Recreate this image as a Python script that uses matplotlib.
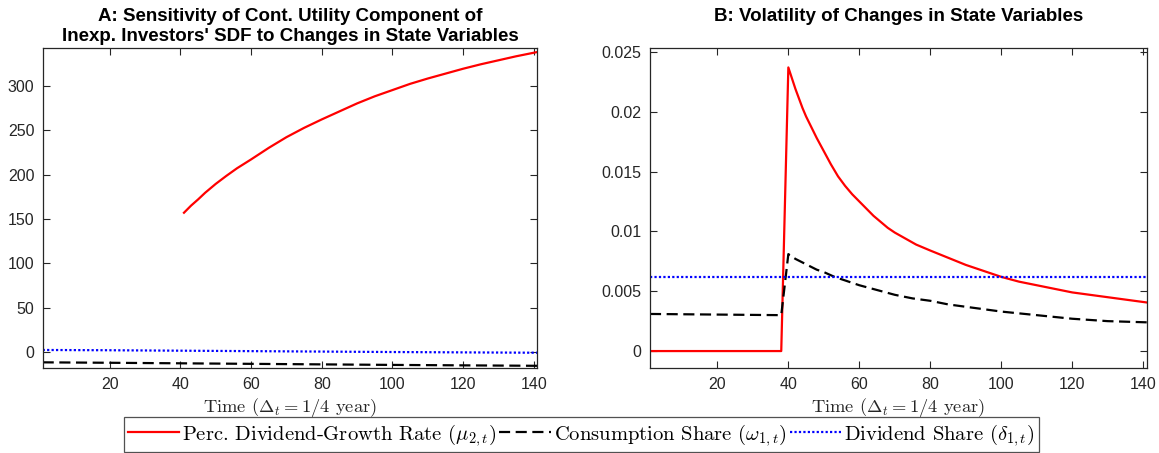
import matplotlib.pyplot as plt
from matplotlib.ticker import FuncFormatter

plt.rcParams['font.family'] = ['Liberation Sans', 'DejaVu Sans']
plt.rcParams['mathtext.fontset'] = 'cm'

# Panel A: sensitivity of cont. utility component
a_red_t = [41, 43, 45, 47, 50, 53, 56, 60, 65, 70, 75, 80, 85, 90, 95, 100, 105, 110, 115, 120,
           125, 130, 135, 140, 141]
a_red_v = [157, 165, 172, 179.5, 189.5, 198.5, 207, 217, 230, 242, 252.5, 262, 271, 280, 288, 295,
           302, 308, 313.5, 319, 324, 328.5, 333, 337, 337.8]
a_blk_t = [1, 20, 40, 60, 80, 100, 120, 141]
a_blk_v = [-11.3, -11.8, -12.4, -13.0, -13.6, -14.2, -14.7, -15.2]
a_blu_t = [1, 20, 40, 60, 80, 100, 120, 141]
a_blu_v = [2.6, 2.3, 1.8, 1.3, 0.8, 0.3, -0.1, -0.5]

# Panel B: volatility of changes in state variables
b_red_t = [1, 38, 40, 41, 42, 43, 44, 45, 46, 48, 50, 52, 54, 56, 58, 60, 62, 64, 66, 68, 70, 73,
           76, 80, 85, 90, 95, 100, 105, 110, 115, 120, 125, 130, 135, 140, 141]
b_red_v = [0, 0, 0.0237, 0.0228, 0.0219, 0.0211, 0.0203, 0.0196, 0.0190, 0.0178, 0.0167, 0.0156,
           0.0146, 0.0138, 0.0131, 0.0125, 0.0119, 0.0113, 0.0108, 0.0103, 0.0099, 0.0094, 0.0089,
           0.0084, 0.0078, 0.0072, 0.0067, 0.0062, 0.0058, 0.0055, 0.0052, 0.0049, 0.0047, 0.0045,
           0.0043, 0.0041, 0.00406]
b_blk_t = [1, 38, 40, 42, 44, 46, 48, 50, 53, 56, 60, 65, 70, 75, 80, 85, 90, 100, 110, 120, 130, 141]
b_blk_v = [0.0031, 0.0030, 0.0081, 0.0077, 0.0074, 0.0071, 0.0068, 0.0066, 0.0062, 0.0059, 0.0055,
           0.0051, 0.0047, 0.0044, 0.0042, 0.0039, 0.0037, 0.0033, 0.0030, 0.0027, 0.0025, 0.0024]
b_blu_t = [1, 141]
b_blu_v = [0.0062, 0.0062]

a_yticks = [0, 50, 100, 150, 200, 250, 300]
b_yticks = [0, 0.005, 0.01, 0.015, 0.02, 0.025]
xticks = [20, 40, 60, 80, 100, 120, 140]

labels = [r'Perc. Dividend-Growth Rate ($\mu_{2,t}$)',
          r'Consumption Share ($\omega_{1,t}$)',
          r'Dividend Share ($\delta_{1,t}$)']

fig = plt.figure(figsize=(11.59, 4.53), dpi=100)
axA = fig.add_axes([0.0368, 0.187, 0.4268, 0.7064])
axB = fig.add_axes([0.5608, 0.187, 0.4286, 0.7064])

lw = 1.6
dash = (0, (5, 2.5))
dot = (0, (1, 1))

axA.plot(a_red_t, a_red_v, color='red', lw=lw)
axA.plot(a_blk_t, a_blk_v, color='black', lw=lw, linestyle=dash)
axA.plot(a_blu_t, a_blu_v, color='blue', lw=lw, linestyle=dot)

hr, = axB.plot(b_red_t, b_red_v, color='red', lw=lw)
hk, = axB.plot(b_blk_t, b_blk_v, color='black', lw=lw, linestyle=dash)
hb, = axB.plot(b_blu_t, b_blu_v, color='blue', lw=lw, linestyle=dot)

axA.set_ylim(-18, 342)
axB.set_ylim(-0.00144, 0.0253)
axA.set_yticks(a_yticks)
axB.set_yticks(b_yticks)
axB.yaxis.set_major_formatter(FuncFormatter(lambda v, p: '%g' % v))

axA.set_title("A: Sensitivity of Cont. Utility Component of\nInexp. Investors' SDF to Changes in State Variables",
              fontsize=13.5, fontweight='bold', pad=5, linespacing=1.25)
axB.set_title("B: Volatility of Changes in State Variables\n ",
              fontsize=13.5, fontweight='bold', pad=5, linespacing=1.25)

for ax in (axA, axB):
    ax.set_xlim(1, 141)
    ax.set_xticks(xticks)
    ax.tick_params(direction='in', top=True, right=True, length=5, width=0.8,
                   labelsize=11.5, colors='#262626', pad=6)
    for s in ax.spines.values():
        s.set_color('#262626')
        s.set_linewidth(0.9)
    ax.set_xlabel(r'Time ($\Delta_t = 1/4$ year)', fontsize=13.3, family='cmr10',
                  color='#262626', labelpad=3)

leg = fig.legend([hr, hk, hb], labels, loc='lower center', bbox_to_anchor=(0.5015, 0.003),
                 ncol=3, fancybox=False, edgecolor='#262626', handlelength=2.5,
                 handletextpad=0.15, columnspacing=0.15, borderpad=0.2, borderaxespad=0,
                 prop={'family': 'cmr10', 'size': 14.8})
leg.get_frame().set_linewidth(0.9)

fig.savefig('out.png', dpi=100)
